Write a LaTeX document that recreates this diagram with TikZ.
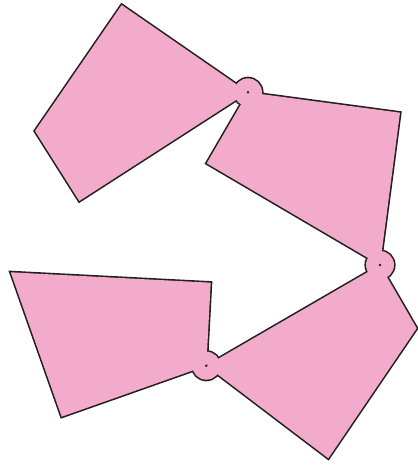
\documentclass[tikz,border=0pt]{standalone}
\definecolor{plate}{RGB}{243,171,203}
\definecolor{rim}{RGB}{35,31,32}
\begin{document}
\begin{tikzpicture}[x=1pt,y=-1pt,
    outline/.style={draw=rim,line width=3.2pt},
    inside/.style={fill=plate}]
    \useasboundingbox (0,0) rectangle (417,465);

    % Titik engsel
    \coordinate (h1) at (248,92.3);
    \coordinate (h2) at (380,265);
    \coordinate (h3) at (206.3,365.7);

    % Garis luar (tebal dua kali, isinya menutup bagian dalam)
    \draw[outline] (121.7,5) -- (35,131) -- (79.3,201) -- (h1) -- cycle;
    \draw[outline] (h1) -- (400,112.7) -- (h2) -- (206.7,163.3) -- cycle;
    \draw[outline] (h2) -- (416.7,328.3) -- (328.3,458.3) -- (h3) -- cycle;
    \draw[outline] (10.7,272.3) -- (210.7,282.7) -- (h3) -- (61.7,416.7) -- cycle;
    \draw[outline] (h1) circle (14pt);
    \draw[outline] (h2) circle (14pt);
    \draw[outline] (h3) circle (14pt);

    % Isi bidang
    \fill[inside] (121.7,5) -- (35,131) -- (79.3,201) -- (h1) -- cycle;
    \fill[inside] (h1) -- (400,112.7) -- (h2) -- (206.7,163.3) -- cycle;
    \fill[inside] (h2) -- (416.7,328.3) -- (328.3,458.3) -- (h3) -- cycle;
    \fill[inside] (10.7,272.3) -- (210.7,282.7) -- (h3) -- (61.7,416.7) -- cycle;
    \fill[inside] (h1) circle (14pt);
    \fill[inside] (h2) circle (14pt);
    \fill[inside] (h3) circle (14pt);

    % Titik pusat engsel
    \fill[rim] (h1) circle (1.4pt);
    \fill[rim] (h2) circle (1.4pt);
    \fill[rim] (h3) circle (1.4pt);

\end{tikzpicture}
\end{document}
